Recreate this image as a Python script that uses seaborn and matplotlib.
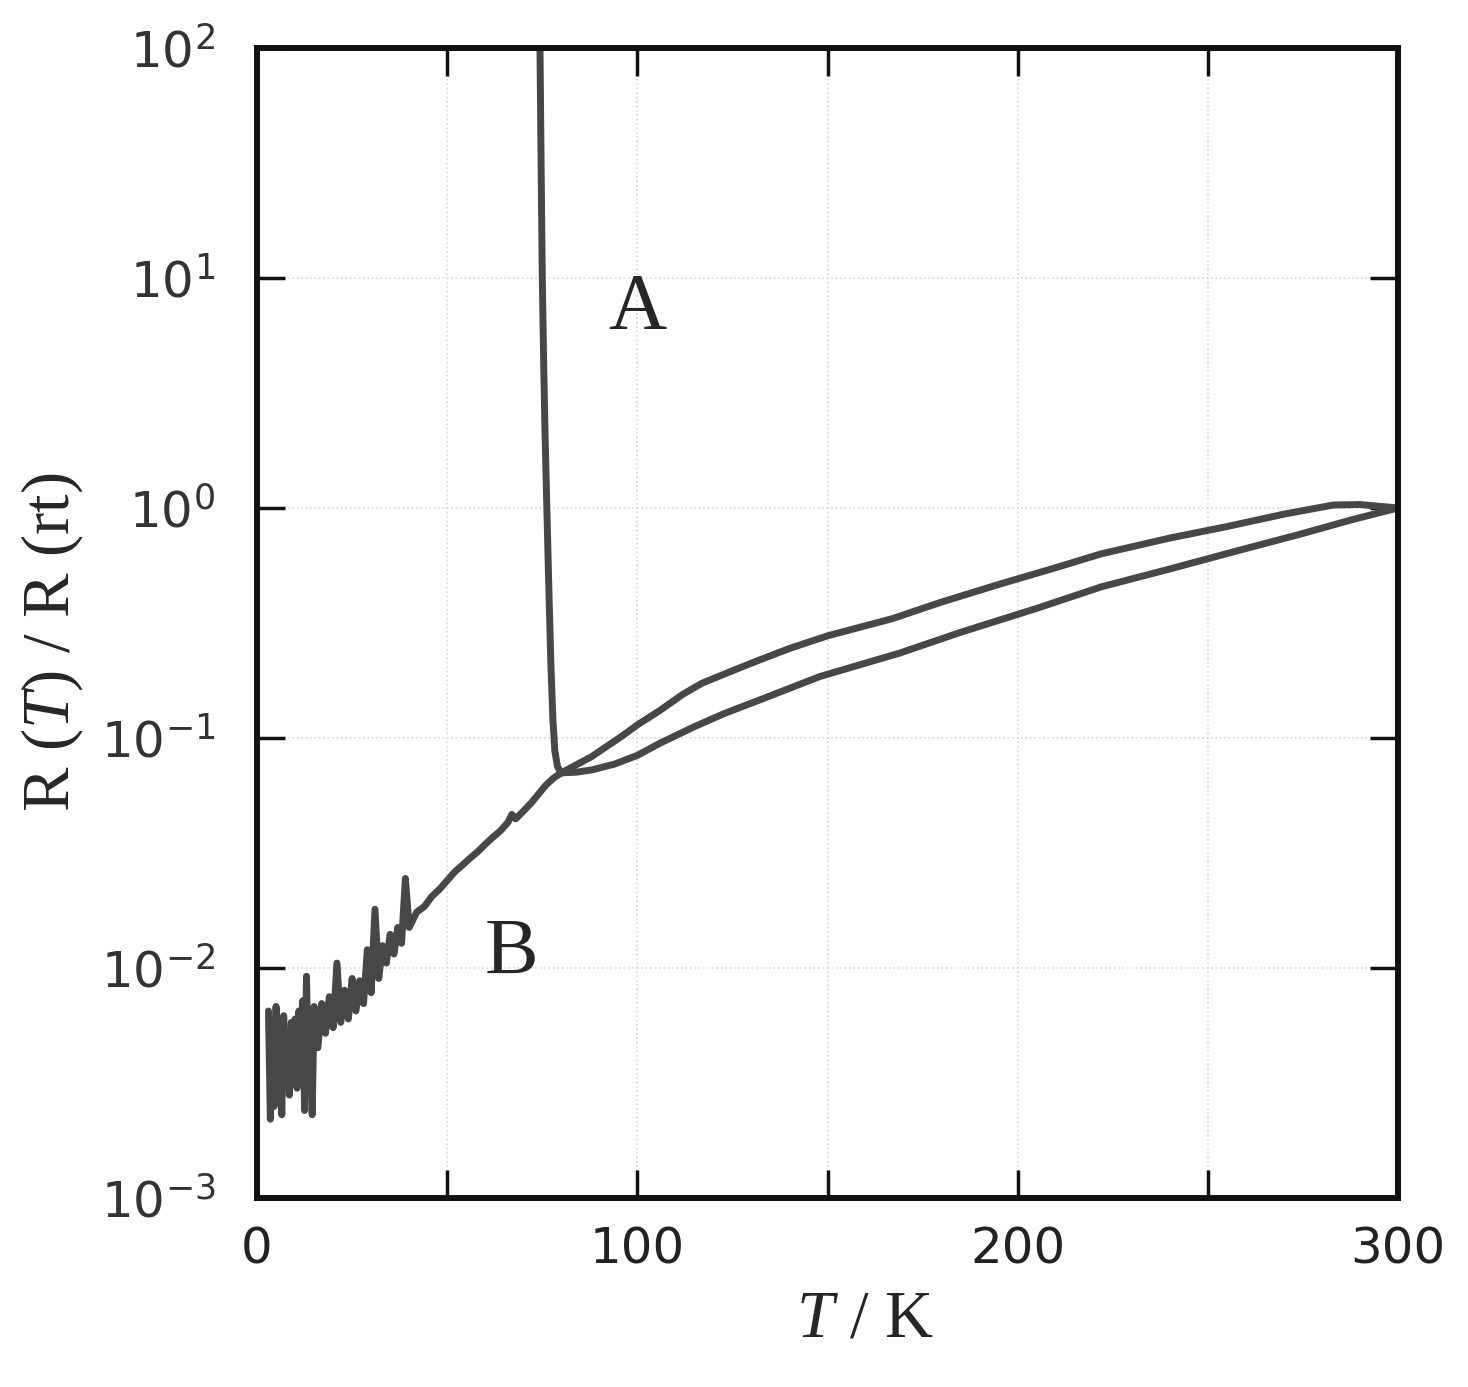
import matplotlib
matplotlib.use("Agg")
import matplotlib.pyplot as plt
import matplotlib.ticker as mticker
import pandas as pd
import seaborn as sns

# ---- data (T in K, R(T)/R(rt)) ----
# curve A: sharp upturn below ~80 K
a_drop_T = [74.2, 74.4, 74.7, 75.0, 75.4, 75.7, 76.2, 76.8, 77.3, 77.8, 78.3, 79.0, 80.0]
a_drop_R = [150.0, 100.0, 30.0, 10.0, 4.0, 2.2, 1.0, 0.40, 0.20, 0.12, 0.088, 0.075, 0.0705]

# upper branch between 80 K and 300 K
upper_T = [80, 88, 96, 100, 106, 112, 117, 125, 132, 140, 150, 167, 180, 195, 210, 222,
           240, 255, 270, 283, 290, 300]
upper_R = [0.0705, 0.083, 0.102, 0.114, 0.132, 0.155, 0.173, 0.196, 0.218, 0.245, 0.278,
           0.330, 0.390, 0.465, 0.550, 0.632, 0.740, 0.830, 0.940, 1.030, 1.035, 1.0]

# lower branch between 80 K and 300 K
lower_T = [80, 84, 88, 94, 100, 106, 115, 123, 132, 148, 169, 185, 205, 222, 240, 258,
           274, 288, 300]
lower_R = [0.0705, 0.071, 0.0726, 0.077, 0.084, 0.095, 0.112, 0.128, 0.146, 0.185, 0.234,
           0.288, 0.366, 0.454, 0.543, 0.653, 0.767, 0.890, 1.0]

# curve B: noisy low temperature part
b_low_T = [3.0, 3.5, 4.0, 4.5, 5.0, 5.5, 6.0, 6.5, 7.0, 7.5, 8.0, 8.5, 9.0, 9.5, 10.0,
           10.5, 11.0, 11.5, 12.0, 12.5, 13.0, 13.5, 14.0, 14.5, 15.0, 16.0, 17.0, 18.0,
           19.0, 20.0, 21.0, 22.0, 23.0, 24.0, 25.0, 26.0, 27.0, 28.0, 29.0, 30.0, 31.0,
           32.0, 33.0, 34.0, 35.0, 36.0, 37.0, 38.0, 39.0, 40.0, 42.0, 44.0, 46.0, 48.0,
           50.0, 52.0, 54.0, 56.0, 58.0, 60.0, 62.0, 64.0, 66.0, 67.0, 68.0, 70.0, 72.0,
           74.0, 76.0, 78.0, 80.0]
b_low_R = [0.0065, 0.0022, 0.0060, 0.0025, 0.0068, 0.0030, 0.0055, 0.0023, 0.0062, 0.0035,
           0.0050, 0.0028, 0.0058, 0.0040, 0.0060, 0.0030, 0.0065, 0.0045, 0.0072, 0.0024,
           0.0092, 0.0035, 0.0060, 0.0023, 0.0068, 0.0045, 0.0070, 0.0052, 0.0075, 0.0055,
           0.0105, 0.0058, 0.0080, 0.0060, 0.0090, 0.0065, 0.0088, 0.0070, 0.0120, 0.0078,
           0.0180, 0.0090, 0.0125, 0.0105, 0.0140, 0.0115, 0.0150, 0.0128, 0.0245, 0.0150,
           0.0175, 0.0185, 0.0205, 0.0220, 0.0240, 0.0262, 0.0280, 0.0300, 0.0320, 0.0345,
           0.0370, 0.0395, 0.0430, 0.0465, 0.0445, 0.0480, 0.0520, 0.0570, 0.0625, 0.0670,
           0.0705]

x_ticks = [0, 50, 100, 150, 200, 250, 300]
x_tick_labels = ["0", "", "100", "", "200", "", "300"]
y_ticks = [1e-3, 1e-2, 1e-1, 1e0, 1e1, 1e2]

LINE = "#474747"

sns.set_theme(style="ticks")
plt.rcParams["font.family"] = ["DejaVu Sans"]
plt.rcParams["mathtext.fontset"] = "custom"
plt.rcParams["mathtext.it"] = "Liberation Serif:italic"
plt.rcParams["mathtext.rm"] = "Liberation Serif"

fig = plt.figure(figsize=(14.68, 13.87), dpi=100)
ax = fig.add_axes([0.1751, 0.1363, 0.7772, 0.8291])

segments = [(a_drop_T, a_drop_R), (upper_T, upper_R), (lower_T, lower_R), (b_low_T, b_low_R)]
for seg_T, seg_R in segments:
    df = pd.DataFrame({"T": seg_T, "R": seg_R})
    sns.lineplot(data=df, x="T", y="R", ax=ax, sort=False, estimator=None,
                 color=LINE, lw=5)

ax.set_yscale("log")
ax.set_xlim(0, 300)
ax.set_ylim(1e-3, 1e2)

ax.set_xticks(x_ticks)
ax.set_xticklabels(x_tick_labels, fontsize=36, color="#222222")
ax.set_yticks(y_ticks)
ax.yaxis.set_major_formatter(mticker.LogFormatterSciNotation())
ax.yaxis.set_minor_locator(mticker.NullLocator())
ax.tick_params(axis="y", labelsize=36, labelcolor="#333333")

ax.tick_params(axis="both", which="major", direction="in", length=20, width=2.5,
               color="#111111", top=True, right=True)
ax.tick_params(axis="x", pad=20)
ax.tick_params(axis="y", pad=30)

ax.grid(True, which="major", ls=":", lw=1.2, color="#d6d6d6")
for sp in ax.spines.values():
    sp.set_linewidth(4.3)
    sp.set_color("#111111")

serif = ["Liberation Serif", "DejaVu Serif"]
ax.set_xlabel(r"$T$ / K", family=serif, fontsize=48)
ax.xaxis.set_label_coords(0.533, -0.08)
ax.set_ylabel(r"R ($T$) / R (rt)", family=serif, fontsize=48)
ax.yaxis.set_label_coords(-0.151, 0.483)

ax.text(100, 7.26, "A", family=serif, fontsize=58, ha="center", va="center")
ax.text(67, 0.0114, "B", family=serif, fontsize=58, ha="center", va="center")

fig.savefig("out.png", dpi=100)
